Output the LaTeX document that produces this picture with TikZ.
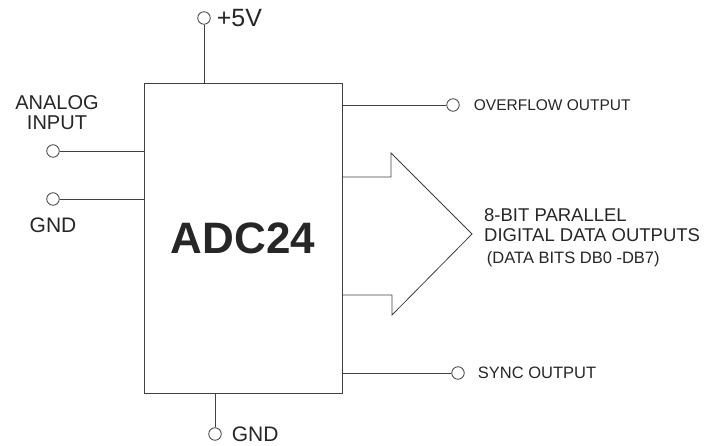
\documentclass[tikz,border=0pt]{standalone}
\usepackage{fontspec}
\setmainfont{Liberation Sans}
\usepackage{tikz}
\usetikzlibrary{positioning,calc}

\begin{document}
\begin{tikzpicture}[
  x=1pt,y=-1pt,
  wire/.style={draw=black!75,line width=0.8pt},
  term/.style={circle,draw=black!75,line width=0.8pt,minimum size=12.5pt,inner sep=0pt},
  lbl/.style={text=black!85,inner sep=0pt,font=\fontsize{15.5}{18}\selectfont},
  chip/.style={draw=black!75,line width=0.9pt,minimum width=198pt,minimum height=310pt,
               inner sep=0pt,text=black!85,font=\fontsize{44}{48}\selectfont\bfseries}
]
\useasboundingbox (0,0) rectangle (720,446);

\node[chip] (adc) at (243,238) {ADC24};

% terminals
\node[term] (vcc)  at (204,18)  {};
\node[term] (gndb) at (215,434) {};
\node[term] (ain)  at (53,151)  {};
\node[term] (gndl) at (53,199)  {};
\node[term] (ovf)  at (453,105) {};
\node[term] (sync) at (458,373) {};

% labels
\node[lbl,font=\fontsize{25}{28}\selectfont,right=6pt of vcc] (vcctxt) {+5V};
\node[lbl,font=\fontsize{21}{24}\selectfont,anchor=base west] (gndbtxt) at ($(gndb.east)+(10,7)$) {GND};
\node[lbl,font=\fontsize{20}{20}\selectfont,align=center,above=14pt of ain,xshift=4pt] (aintxt) {ANALOG\\INPUT};
\node[lbl,font=\fontsize{21}{24}\selectfont,below=12pt of gndl] (gndltxt) {GND};
\node[lbl,right=14pt of ovf] (ovftxt) {OVERFLOW OUTPUT};
\node[lbl,font=\fontsize{16.5}{19}\selectfont,right=13pt of sync] (synctxt) {SYNC OUTPUT};
\node[lbl,font=\fontsize{18.5}{19.5}\selectfont,align=left,anchor=west] (dattxt) at (484,238)
  {8-BIT PARALLEL\\DIGITAL DATA OUTPUTS\\[3pt]{\fontsize{16.5}{18}\selectfont\,(DATA BITS DB0 -DB7)}};

% wires
\draw[wire] (vcc) -- (vcc |- adc.north);
\draw[wire] (gndb) -- (gndb |- adc.south);
\draw[wire] (ain) -- (ain -| adc.west);
\draw[wire] (gndl) -- (gndl -| adc.west);
\draw[wire] (adc.east |- ovf) -- (ovf);
\draw[wire] (adc.east |- sync) -- (sync);

% data bus arrow
\draw[wire] (adc.east |- 0,177) -- (391,177) -- (391,153) -- (472,234)
  -- (392,315) -- (392,295) -- (adc.east |- 0,295);
\end{tikzpicture}
\end{document}
